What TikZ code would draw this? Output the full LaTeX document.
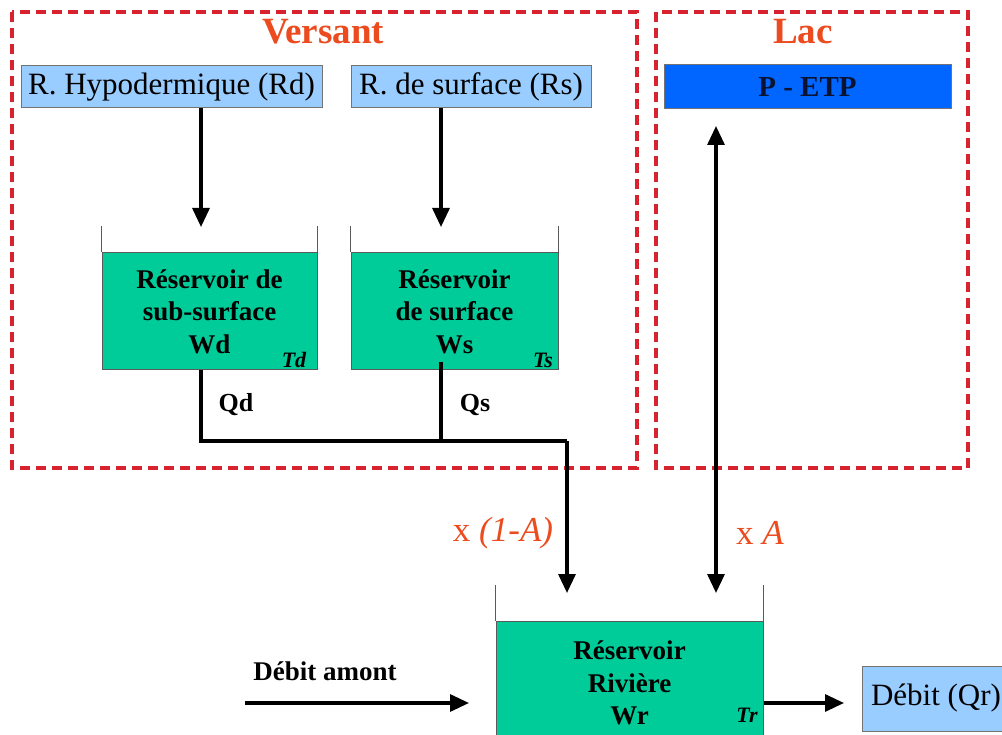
\documentclass[tikz,border=0pt]{standalone}
\usepackage{fontspec}
\setmainfont{Liberation Serif}
\usetikzlibrary{arrows.meta}
\definecolor{dashred}{RGB}{215,35,45}
\definecolor{titlered}{RGB}{235,75,30}
\definecolor{lblue}{RGB}{153,204,255}
\definecolor{dblue}{RGB}{0,102,255}
\definecolor{water}{RGB}{0,204,153}
\definecolor{wallc}{RGB}{90,90,90}
\definecolor{navytext}{RGB}{10,20,50}
\begin{document}
\begin{tikzpicture}[x=1pt,y=-1pt,
  zone/.style={draw=dashred,line width=3.6pt,dash pattern=on 10pt off 6pt},
  zonetitle/.style={text=titlered,font=\fontsize{37}{40}\selectfont\bfseries,inner sep=0pt},
  inbox/.style={draw=black!55,line width=1pt,fill=lblue,inner sep=0pt,font=\fontsize{31}{36}\selectfont},
  etpbox/.style={draw=black!55,line width=1pt,fill=dblue,inner sep=0pt,text=navytext,font=\fontsize{29}{34}\selectfont\bfseries},
  waterbox/.style={fill=water,draw=wallc,line width=1pt,inner sep=0pt,align=center,font=\fontsize{27}{32.5}\selectfont\bfseries},
  wallline/.style={draw=wallc,line width=1.3pt},
  flow/.style={line width=3.2pt,-{Triangle[width=17pt,length=19pt]}},
  bothflow/.style={line width=3.2pt,{Triangle[width=17pt,length=19pt]}-{Triangle[width=17pt,length=19pt]}},
  plainflow/.style={line width=3.2pt},
  qlabel/.style={font=\fontsize{26}{30}\selectfont\bfseries,inner sep=0pt},
  tlabel/.style={font=\fontsize{22}{24}\selectfont\bfseries\itshape,inner sep=0pt},
  factor/.style={text=titlered,font=\fontsize{35}{40}\selectfont,inner sep=0pt}
]
\useasboundingbox (0,0) rectangle (1002,735);
\fill[white] (0,0) rectangle (1002,735);
\clip (0,0) rectangle (1002,735);

% zones
\draw[zone] (12,12) rectangle (637,468);
\draw[zone] (656,12) rectangle (968,468);
\node[zonetitle] (versant) at (323,32) {Versant};
\node[zonetitle] (lac) at (803,32) {Lac};

% input boxes
\node[inbox,minimum width=301pt,minimum height=42pt] (rd) at (171.5,87) {R. Hypodermique (Rd)};
\node[inbox,minimum width=240pt,minimum height=42pt] (rs) at (471,87) {R. de surface (Rs)};
\node[etpbox,minimum width=287pt,minimum height=44pt] (etp) at (807.5,87) {P - ETP};

% reservoirs (water)
\node[waterbox,minimum width=215pt,minimum height=117pt] (wd) at (209.5,311.5) {Réservoir de\\sub-surface\\Wd};
\node[waterbox,minimum width=207pt,minimum height=117pt] (ws) at (454.5,311.5) {Réservoir\\de surface\\Ws};
\node[waterbox,minimum width=267pt,minimum height=124pt] (wr) at (629.5,683) {Réservoir\\Rivière\\Wr};

% walls
\draw[wallline] (wd.north west) -- ++(0,-26);
\draw[wallline] (wd.north east) -- ++(0,-26);
\draw[wallline] (ws.north west) -- ++(0,-26);
\draw[wallline] (ws.north east) -- ++(0,-26);
\draw[wallline] (wr.north west) -- ++(0,-36);
\draw[wallline] (wr.north east) -- ++(0,-36);

% time constants
\node[tlabel] (td) at (294,360) {Td};
\node[tlabel] (ts) at (543,360) {Ts};
\node[tlabel] (tr) at (747,715) {Tr};

% output box
\node[inbox,minimum width=148pt,minimum height=65pt] (qr) at (936,698.5) {Débit (Qr)};

% coordinates
\coordinate (tipd) at (201,227);
\coordinate (tips) at (441,227);
\coordinate (outd) at (201,370);
\coordinate (outs) at (441,362);
\coordinate (join) at (567,441);
\coordinate (tipr) at (567,593);
\coordinate (tipe) at (716,593);
\coordinate (tipetp) at (716,126);
\coordinate (amont) at (245,703);
\coordinate (tipamont) at (469,703);
\coordinate (tipqr) at (844,703);

% arrows
\draw[flow] (rd.south -| tipd) -- (tipd);
\draw[flow] (rs.south -| tips) -- (tips);
\draw[plainflow] (outd) |- (join);
\draw[plainflow] (outs) -- (outs |- join);
\draw[flow] (join) -- (tipr);
\draw[bothflow] (tipetp) -- (tipe);
\draw[flow] (amont) -- (tipamont);
\draw[flow] (wr.east |- tipqr) -- (tipqr);

% labels
\node[qlabel] (qd) at (236,405) {Qd};
\node[qlabel] (qs) at (475,405) {Qs};
\node[factor] (f1) at (503,533) {x \textit{(1-A)}};
\node[factor] (f2) at (760,533) {x \textit{A}};
\node[qlabel,font=\fontsize{27}{30}\selectfont\bfseries] (amtxt) at (325,671) {Débit amont};
\end{tikzpicture}
\end{document}
